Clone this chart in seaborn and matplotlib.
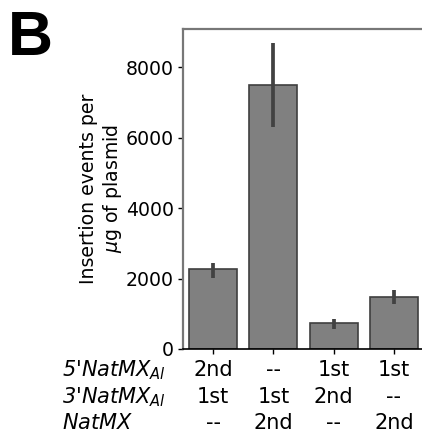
import matplotlib
matplotlib.use("Agg")
import matplotlib.pyplot as plt
import matplotlib.transforms as mtransforms
import seaborn as sns
import pandas as pd
import numpy as np

# ---- data ----
categories = ["A", "B", "C", "D"]
means = [2260, 7500, 730, 1485]
err_low = [2005, 6290, 567, 1277]
err_high = [2449, 8690, 843, 1665]

row_headers = ["5'$NatMX_{Al}$", "3'$NatMX_{Al}$", "$NatMX$"]
row_5 = ["2nd", "--", "1st", "1st"]
row_3 = ["1st", "1st", "2nd", "--"]
row_nat = ["--", "2nd", "--", "2nd"]

df = pd.DataFrame({"construct": categories, "events": means})

sns.set_style("ticks")
plt.rcParams["font.family"] = ["DejaVu Sans"]
plt.rcParams.update({"text.color": "black", "axes.labelcolor": "black",
                     "xtick.color": "black", "ytick.color": "black"})

W, H = 422, 434
fig = plt.figure(figsize=(W / 100, H / 100), dpi=100)
ax_left, ax_right, ax_top, ax_bot = 183, 424, 29, 349
ax = fig.add_axes([ax_left / W, (H - ax_bot) / H,
                   (ax_right - ax_left) / W, (ax_bot - ax_top) / H])

sns.barplot(data=df, x="construct", y="events", ax=ax, color="#808080",
            saturation=1, edgecolor="#3f3f3f", linewidth=1.2, errorbar=None,
            width=0.8)

xs = np.arange(len(categories))
ax.vlines(xs, err_low, err_high, color="#424242", linewidth=2.7, zorder=3)

ax.set_xlim(-0.5, 3.5)
ax.set_ylim(0, max(err_high) * 1.045)
ax.set_yticks([0, 2000, 4000, 6000, 8000])
ax.tick_params(axis="y", labelsize=13.6, length=3.5, width=1, pad=3)
ax.tick_params(axis="x", length=3.5, width=1)
ax.set_xticks(xs)
ax.set_xticklabels([""] * 4)
ax.set_xlabel("")
ax.set_ylabel("Insertion events per\n$\\mu$g of plasmid", fontsize=13.6, labelpad=1)

for s in ["left", "top"]:
    ax.spines[s].set_color("#777777")
    ax.spines[s].set_linewidth(1.6)
ax.spines["bottom"].set_color("black")
ax.spines["bottom"].set_linewidth(1.2)
ax.spines["right"].set_visible(False)

trans = mtransforms.blended_transform_factory(ax.transData, fig.transFigure)
rows = [row_5, row_3, row_nat]
baselines = [376, 403, 429]
for header, vals, yb in zip(row_headers, rows, baselines):
    yf = (H - yb) / H
    fig.text(62 / W, yf, header, fontsize=15, style="italic", ha="left", va="baseline")
    for i, v in enumerate(vals):
        ax.text(i, yf, v, transform=trans, fontsize=15, ha="center", va="baseline")

fig.text(8 / W, (H - 55) / H, "B", fontsize=45, fontweight="bold",
         family="Liberation Sans", color="black", ha="left", va="baseline")

fig.savefig("out.png", dpi=100)
